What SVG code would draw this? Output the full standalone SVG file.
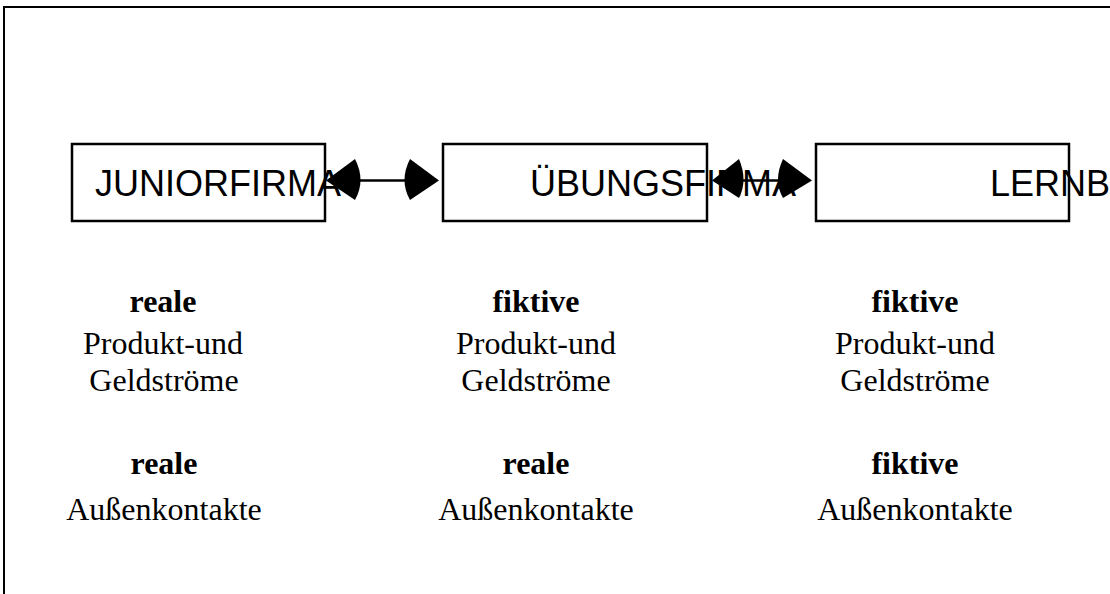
<svg xmlns="http://www.w3.org/2000/svg" width="1110" height="594" viewBox="0 0 1110 594">
<style>
.frame{stroke:#000;stroke-width:2;fill:none}
.box{fill:#fff;stroke:#000;stroke-width:2.5}
.bt{font-family:"Liberation Sans",Arial,sans-serif;font-size:36px;fill:#000}
.b{font-family:"Liberation Serif","Times New Roman",serif;font-size:32px;font-weight:bold;fill:#000;text-anchor:middle}
.r{font-family:"Liberation Serif","Times New Roman",serif;font-size:32px;fill:#000;text-anchor:middle}
.ln{stroke:#000;stroke-width:2.5;fill:none}
.ah{fill:#000;stroke:none}
</style>
<rect width="1110" height="594" fill="#fff"/>
<g id="frame">
<line class="frame" x1="3" y1="7" x2="1110" y2="7"/>
<line class="frame" x1="4" y1="6" x2="4" y2="594"/>
</g>
<g id="node-juniorfirma">
<rect class="box" x="72" y="144" width="253" height="77"/>
<text class="bt" x="95" y="196">JUNIORFIRMA</text>
</g>
<g id="node-uebungsfirma">
<rect class="box" x="443" y="144" width="264" height="77"/>
<text class="bt" x="530" y="196">ÜBUNGSFIRMA</text>
</g>
<g id="node-lernbuero">
<rect class="box" x="816" y="144" width="253" height="77"/>
<text class="bt" x="990" y="196">LERNB</text>
</g>
<g id="connectors">
<line class="ln" x1="350" y1="180.5" x2="415" y2="180.5"/>
<path class="ah" d="M326,180.5 L355,159 Q366,180.5 355,200 Z"/>
<path class="ah" d="M439,180.5 L410,159 Q399,180.5 410,200 Z"/>
<line class="ln" x1="735" y1="180.5" x2="790" y2="180.5"/>
<path class="ah" d="M712,180.5 L739,159 Q748,180.5 739,198 Z"/>
<path class="ah" d="M812,180.5 L783,159 Q773,180.5 783,198 Z"/>
</g>
<g id="col1">
<text class="b" x="163" y="312">reale</text>
<text class="r" x="163" y="354">Produkt-und</text>
<text class="r" x="164" y="391">Geldströme</text>
<text class="b" x="164" y="474">reale</text>
<text class="r" x="164" y="520">Außenkontakte</text>
</g>
<g id="col2">
<text class="b" x="536" y="312">fiktive</text>
<text class="r" x="536" y="354">Produkt-und</text>
<text class="r" x="536" y="391">Geldströme</text>
<text class="b" x="536" y="474">reale</text>
<text class="r" x="536" y="520">Außenkontakte</text>
</g>
<g id="col3">
<text class="b" x="915" y="312">fiktive</text>
<text class="r" x="915" y="354">Produkt-und</text>
<text class="r" x="915" y="391">Geldströme</text>
<text class="b" x="915" y="474">fiktive</text>
<text class="r" x="915" y="520">Außenkontakte</text>
</g>
</svg>
